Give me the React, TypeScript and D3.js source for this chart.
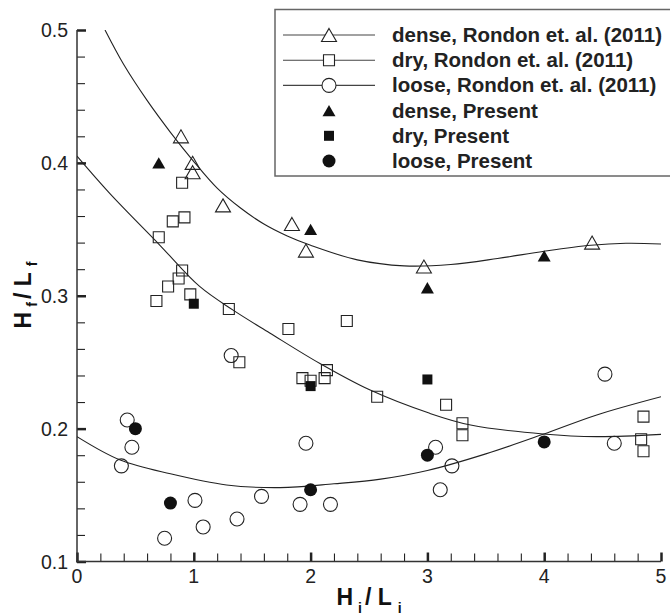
import React, { useEffect, useRef } from 'react';
import * as d3 from 'd3';

// measured data (H_i / L_i vs H_f / L_f)
const denseRondonX = [0.89, 0.99, 0.99, 1.25, 1.84, 1.96, 2.97, 4.41];
const denseRondonY = [0.42, 0.4, 0.393, 0.368, 0.354, 0.334, 0.322, 0.34];
const densePresentX = [0.7, 2.0, 3.0, 4.0];
const densePresentY = [0.4, 0.35, 0.306, 0.33];

const dryRondonX = [0.9, 0.82, 0.92, 0.7, 0.9, 0.87, 0.78, 0.68, 0.97, 1.3, 1.39, 1.81, 1.93, 2.0, 2.12, 2.14, 2.31, 2.57, 3.16, 3.3, 3.3, 4.85, 4.83, 4.85];
const dryRondonY = [0.385, 0.356, 0.359, 0.344, 0.319, 0.313, 0.307, 0.296, 0.301, 0.29, 0.25, 0.275, 0.238, 0.236, 0.238, 0.244, 0.281, 0.224, 0.218, 0.204, 0.195, 0.209, 0.192, 0.183];
const dryPresentX = [1.0, 2.0, 3.0];
const dryPresentY = [0.294, 0.232, 0.237];

const looseRondonX = [0.38, 0.43, 0.47, 0.75, 1.01, 1.08, 1.32, 1.37, 1.58, 1.91, 1.96, 2.17, 3.07, 3.11, 3.21, 4.52, 4.6];
const looseRondonY = [0.172, 0.2065, 0.186, 0.1175, 0.146, 0.126, 0.255, 0.132, 0.149, 0.143, 0.189, 0.143, 0.186, 0.154, 0.172, 0.241, 0.189];
const loosePresentX = [0.5, 0.8, 2.0, 3.0, 4.0];
const loosePresentY = [0.2, 0.144, 0.154, 0.18, 0.19];

// fitted curves
const denseFitX = [0.24, 0.4, 0.6, 0.8, 1.0, 1.2, 1.4, 1.6, 1.8, 2.0, 2.4, 2.8, 3.2, 3.6, 4.0, 4.4, 4.7, 5.0];
const denseFitY = [0.5, 0.474, 0.447, 0.423, 0.401, 0.381, 0.366, 0.354, 0.345, 0.338, 0.327, 0.3225, 0.3235, 0.328, 0.3335, 0.338, 0.3395, 0.339];
const dryFitX = [0, 0.28, 0.71, 1.05, 1.34, 1.65, 2.08, 2.51, 3.02, 3.37, 3.99, 4.45, 5.0];
const dryFitY = [0.405, 0.377, 0.338, 0.307, 0.289, 0.272, 0.249, 0.229, 0.2115, 0.2027, 0.196, 0.194, 0.1957];
const looseFitX = [0, 0.37, 0.8, 1.28, 1.74, 2.2, 2.6, 3.0, 3.5, 3.99, 4.45, 5.0];
const looseFitY = [0.194, 0.1764, 0.166, 0.1576, 0.1556, 0.1585, 0.162, 0.1685, 0.181, 0.1957, 0.2103, 0.224];

const legendLabels = [
  'dense, Rondon et. al. (2011)',
  'dry, Rondon et. al. (2011)',
  'loose, Rondon et. al. (2011)',
  'dense, Present',
  'dry, Present',
  'loose, Present',
];
const legendShapes = ['triangle', 'square', 'circle', 'triangle', 'square', 'circle'];
const legendFilled = [false, false, false, true, true, true];
const legendLine = [true, true, true, false, false, false];

const xTicks = [0, 1, 2, 3, 4, 5];
const yTicks = [0.1, 0.2, 0.3, 0.4, 0.5];
const xMinorTicks = [0.2, 0.4, 0.6, 0.8, 1.2, 1.4, 1.6, 1.8, 2.2, 2.4, 2.6, 2.8, 3.2, 3.4, 3.6, 3.8, 4.2, 4.4, 4.6, 4.8];
const yMinorTicks = [0.12, 0.14, 0.16, 0.18, 0.22, 0.24, 0.26, 0.28, 0.32, 0.34, 0.36, 0.38, 0.42, 0.44, 0.46, 0.48];

const FONT = "'Liberation Sans', Arial, Helvetica, sans-serif";

function markerPath(shape, size) {
  const r = size / 2;
  if (shape === 'triangle') {
    const h = size * 0.87;
    return `M0,${-h / 2}L${r},${h / 2}L${-r},${h / 2}Z`;
  }
  if (shape === 'square') {
    return `M${-r},${-r}L${r},${-r}L${r},${r}L${-r},${r}Z`;
  }
  return d3.arc()({ innerRadius: 0, outerRadius: r, startAngle: 0, endAngle: Math.PI * 2 });
}

function markerSize(shape, filled) {
  if (shape === 'triangle') return filled ? 13 : 15;
  if (shape === 'square') return filled ? 10 : 11;
  return filled ? 13 : 14;
}

export default function App() {
  const ref = useRef(null);

  useEffect(() => {
    const svg = d3.select(ref.current);
    svg.selectAll('*').remove();

    const x = d3.scaleLinear().domain([0, 5]).range([77, 661]);
    const y = d3.scaleLinear().domain([0.1, 0.5]).range([561.5, 30]);

    svg
      .append('defs')
      .append('clipPath')
      .attr('id', 'plotclip')
      .append('rect')
      .attr('x', 77)
      .attr('y', 30)
      .attr('width', 584)
      .attr('height', 531.5);

    // axes with inward ticks
    const styleAxis = (g, w) => {
      g.select('.domain').remove();
      g.selectAll('.tick line').attr('stroke', '#222').attr('stroke-width', w);
      g.selectAll('.tick text').remove();
    };
    svg.append('g').attr('transform', 'translate(77,0)')
      .call(d3.axisLeft(y).tickValues(yMinorTicks).tickSize(-8))
      .call(g => styleAxis(g, 1.1));
    svg.append('g').attr('transform', 'translate(77,0)')
      .call(d3.axisLeft(y).tickValues(yTicks).tickSize(-9))
      .call(g => styleAxis(g, 2.5));
    svg.append('g').attr('transform', 'translate(0,561.5)')
      .call(d3.axisBottom(x).tickValues(xMinorTicks).tickSize(-8))
      .call(g => styleAxis(g, 1.1));
    svg.append('g').attr('transform', 'translate(0,561.5)')
      .call(d3.axisBottom(x).tickValues(xTicks).tickSize(-9))
      .call(g => styleAxis(g, 2.5));
    svg.append('line').attr('x1', 77).attr('x2', 77).attr('y1', 30).attr('y2', 562.5)
      .attr('stroke', '#333').attr('stroke-width', 1.5);
    svg.append('line').attr('x1', 76).attr('x2', 661).attr('y1', 561.5).attr('y2', 561.5)
      .attr('stroke', '#333').attr('stroke-width', 1.5);

    svg
      .selectAll('.ylab')
      .data(yTicks)
      .enter()
      .append('text')
      .attr('x', 68)
      .attr('y', d => y(d) + 7)
      .attr('text-anchor', 'end')
      .attr('font-family', FONT)
      .attr('font-size', 19.5)
      .attr('fill', '#222')
      .text(d => d.toFixed(1));
    svg
      .selectAll('.xlab')
      .data(xTicks)
      .enter()
      .append('text')
      .attr('x', d => x(d))
      .attr('y', 583)
      .attr('text-anchor', 'middle')
      .attr('font-family', FONT)
      .attr('font-size', 19.5)
      .attr('fill', '#222')
      .text(d => d);

    // axis titles
    const xt = svg
      .append('text')
      .attr('x', 369)
      .attr('y', 605)
      .attr('text-anchor', 'middle')
      .attr('font-family', FONT)
      .attr('font-weight', 'bold')
      .attr('font-size', 23)
      .attr('fill', '#111');
    xt.append('tspan').text('H');
    xt.append('tspan').attr('dx', 5).attr('dy', 8).attr('font-size', 14).text('i');
    xt.append('tspan').attr('dx', 3).attr('dy', -8).text('/ L');
    xt.append('tspan').attr('dx', 6).attr('dy', 8).attr('font-size', 14).text('i');

    const yt = svg
      .append('text')
      .attr('transform', 'translate(31,295) rotate(-90)')
      .attr('text-anchor', 'middle')
      .attr('font-family', FONT)
      .attr('font-weight', 'bold')
      .attr('font-size', 23)
      .attr('fill', '#111');
    yt.append('tspan').text('H');
    yt.append('tspan').attr('dx', 5).attr('dy', 6).attr('font-size', 14).text('f');
    yt.append('tspan').attr('dx', 3).attr('dy', -6).text('/ L');
    yt.append('tspan').attr('dx', 6).attr('dy', 6).attr('font-size', 14).text('f');

    // fitted curves
    const line = d3
      .line()
      .x(d => x(d[0]))
      .y(d => y(d[1]))
      .curve(d3.curveCatmullRom.alpha(0.5));
    const fits = [
      [denseFitX, denseFitY],
      [dryFitX, dryFitY],
      [looseFitX, looseFitY],
    ];
    const curves = svg.append('g').attr('clip-path', 'url(#plotclip)');
    fits.forEach(([fx, fy]) => {
      curves
        .append('path')
        .attr('d', line(fx.map((v, i) => [v, fy[i]])))
        .attr('fill', 'none')
        .attr('stroke', '#222')
        .attr('stroke-width', 1.1);
    });

    // markers
    const series = [
      [denseRondonX, denseRondonY, 'triangle', false],
      [dryRondonX, dryRondonY, 'square', false],
      [looseRondonX, looseRondonY, 'circle', false],
      [densePresentX, densePresentY, 'triangle', true],
      [dryPresentX, dryPresentY, 'square', true],
      [loosePresentX, loosePresentY, 'circle', true],
    ];
    series.forEach(([sx, sy, shape, filled]) => {
      svg
        .append('g')
        .selectAll('path')
        .data(sx.map((v, i) => [v, sy[i]]))
        .enter()
        .append('path')
        .attr('transform', d => `translate(${x(d[0])},${y(d[1])})`)
        .attr('d', markerPath(shape, markerSize(shape, filled)))
        .attr('fill', filled ? '#111' : 'none')
        .attr('stroke', filled ? 'none' : '#222')
        .attr('stroke-width', 1.1);
    });

    // legend
    const lg = svg.append('g');
    lg.append('rect')
      .attr('x', 275)
      .attr('y', 9.5)
      .attr('width', 400)
      .attr('height', 166.5)
      .attr('fill', 'white')
      .attr('stroke', '#666')
      .attr('stroke-width', 1.5);
    legendLabels.forEach((label, i) => {
      const cy = 35 + i * 25.2;
      if (legendLine[i]) {
        lg.append('line')
          .attr('x1', 283)
          .attr('x2', 375)
          .attr('y1', cy)
          .attr('y2', cy)
          .attr('stroke', '#444')
          .attr('stroke-width', 1.1);
      }
      const sh = legendShapes[i];
      lg.append('path')
        .attr('transform', `translate(329,${cy})`)
        .attr('d', markerPath(sh, markerSize(sh, legendFilled[i])))
        .attr('fill', legendFilled[i] ? '#111' : 'white')
        .attr('stroke', legendFilled[i] ? 'none' : '#222')
        .attr('stroke-width', 1.1);
      lg.append('text')
        .attr('x', 392)
        .attr('y', cy + 7)
        .attr('font-family', FONT)
        .attr('font-weight', 'bold')
        .attr('font-size', 20.5)
        .attr('fill', '#222')
        .text(label);
    });
  }, []);

  return (
    <svg
      ref={ref}
      width={670}
      height={615}
      style={{ position: 'absolute', left: 0, top: 0, background: 'white' }}
    />
  );
}
